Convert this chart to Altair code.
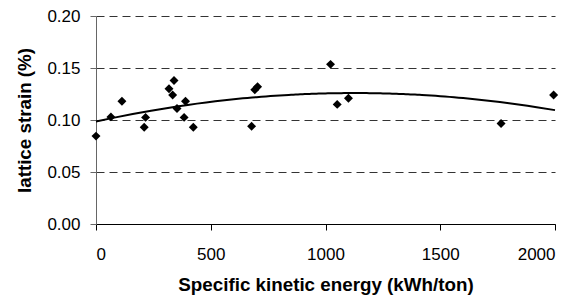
import altair as alt
import pandas as pd

energy = [0, 65, 113, 210, 216, 318, 334, 340, 353, 390, 384, 424, 678, 692, 704, 1022, 1051, 1100, 1765, 1994]
strain = [0.0845, 0.103, 0.118, 0.093, 0.1025, 0.130, 0.124, 0.138, 0.111, 0.118, 0.1025, 0.093, 0.094, 0.129, 0.132, 0.1535, 0.115, 0.121, 0.0967, 0.124]

df = pd.DataFrame({"energy": energy, "strain": strain})

FONT = "Liberation Sans"

x = alt.X("energy:Q", scale=alt.Scale(domain=[0, 2000], nice=False),
          axis=alt.Axis(title="Specific kinetic energy (kWh/ton)", values=[0, 500, 1000, 1500, 2000],
                        format="d",
                        grid=False, domainColor="black", tickColor="black", tickSize=6,
                        labelFontSize=17, labelPadding=16, labelColor="black",
                        titleFontSize=18.8, titleFontWeight="bold", titlePadding=13, titleColor="black"))
y = alt.Y("strain:Q", scale=alt.Scale(domain=[0, 0.2], nice=False),
          axis=alt.Axis(title="lattice strain (%)", values=[0, 0.05, 0.1, 0.15, 0.2], format=".2f",
                        grid=True, gridDash=[8, 5], gridColor="#333333", gridWidth=1,
                        domainColor="#666666", tickColor="#666666", tickSize=6,
                        labelFontSize=17, labelPadding=10, labelColor="black",
                        titleFontSize=18.8, titleFontWeight="bold", titlePadding=12, titleColor="black"))

base = alt.Chart(df)

pts = base.mark_point(shape="diamond", filled=True, color="black", size=80, opacity=1).encode(x=x, y=y)

trend = base.transform_regression("energy", "strain", method="poly", order=2, extent=[0, 2000]).mark_line(
    color="black", strokeWidth=2).encode(x=x, y=y)

chart = alt.layer(trend, pts).properties(
    width=459, height=208,
    autosize=alt.AutoSizeParams(type="none"),
    padding={"left": 88, "top": 8, "right": 24, "bottom": 72},
    background="white",
).configure_view(stroke=None).configure_axis(labelFont=FONT, titleFont=FONT)

chart.save("out.html", embed_options={"renderer": "svg", "actions": False})
